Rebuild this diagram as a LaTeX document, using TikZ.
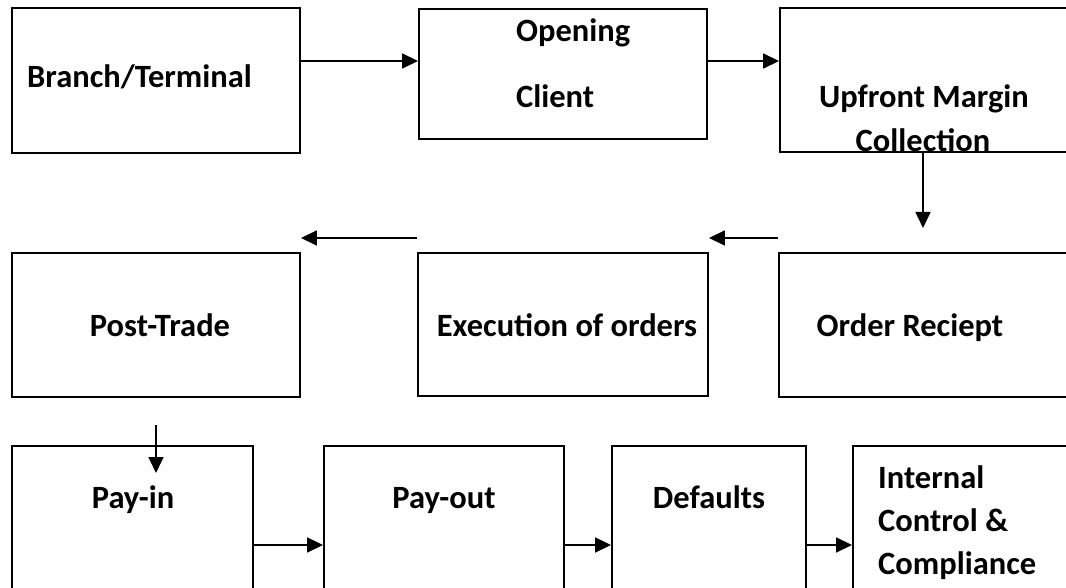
\documentclass[tikz,border=0pt]{standalone}
\usepackage{fontspec}
\setmainfont{Carlito}
\usetikzlibrary{arrows.meta}
\begin{document}
\begin{tikzpicture}[x=1pt,y=-1pt,
  box/.style={draw=black,line width=1.9pt,rectangle,inner sep=0pt,fill=none},
  lbl/.style={inner sep=0pt,font=\fontsize{32.5}{32.5}\selectfont\bfseries},
  arr/.style={line width=1.6pt,-{Triangle[length=16pt,width=15pt]}}]
\useasboundingbox (0,0) rectangle (1066,588);
\clip (0,0) rectangle (1066,588);
% row 1
\node[box,minimum width=288pt,minimum height=145pt] (b1) at (156,80.5) {};
\node[box,minimum width=288pt,minimum height=130pt] (b2) at (563,74) {};
\node[box,minimum width=310pt,minimum height=144pt] (b3) at (935,80) {};
% row 2
\node[box,minimum width=288pt,minimum height=144pt] (b4) at (156,325) {};
\node[box,minimum width=290pt,minimum height=143pt] (b5) at (563,324.5) {};
\node[box,minimum width=311pt,minimum height=144pt] (b6) at (934.5,325) {};
% row 3
\node[box,minimum width=241pt,minimum height=174pt] (b7) at (132.5,533) {};
\node[box,minimum width=240pt,minimum height=174pt] (b8) at (444,533) {};
\node[box,minimum width=194pt,minimum height=174pt] (b9) at (709,533) {};
\node[box,minimum width=237pt,minimum height=174pt] (b10) at (971.5,533) {};
% texts
\node[lbl,anchor=base west] (t1) at (27,88) {Branch/Terminal};
\node[lbl,anchor=base west] (t2a) at (516,42) {Opening};
\node[lbl,anchor=base west] (t2b) at (516,108) {Client};
\node[lbl,anchor=base] (t3a) at (924,108) {Upfront Margin};
\node[lbl,anchor=base] (t3b) at (923,152) {Collection};
\node[lbl,anchor=base] (t4) at (160,336) {Post-Trade};
\node[lbl,anchor=base] (t5) at (567,336) {Execution of orders};
\node[lbl,anchor=base] (t6) at (910,336) {Order Reciept};
\node[lbl,anchor=base] (t7) at (133,508) {Pay-in};
\node[lbl,anchor=base] (t8) at (444,508) {Pay-out};
\node[lbl,anchor=base] (t9) at (709,508) {Defaults};
\node[lbl,anchor=base west] (t10a) at (878,488) {Internal};
\node[lbl,anchor=base west] (t10b) at (878,531) {Control \&};
\node[lbl,anchor=base west] (t10c) at (878,574) {Compliance};
% connector levels
\coordinate (r1) at (0,61);
\coordinate (r2) at (0,238);
\coordinate (r3) at (0,545);
\coordinate (d1) at (923,228);
\coordinate (d2s) at (156,425);
\coordinate (d2e) at (156,473);
% connectors
\draw[arr] (b1.east |- r1) -- (b2.west |- r1);
\draw[arr] (b2.east |- r1) -- (b3.west |- r1);
\draw[arr] (b3.south -| d1) -- (d1);
\draw[arr] (b6.west |- r2) -- (b5.east |- r2);
\draw[arr] (b5.west |- r2) -- (b4.east |- r2);
\draw[arr] (d2s) -- (d2e);
\draw[arr] (b7.east |- r3) -- (b8.west |- r3);
\draw[arr] (b8.east |- r3) -- (b9.west |- r3);
\draw[arr] (b9.east |- r3) -- (b10.west |- r3);
\end{tikzpicture}
\end{document}
